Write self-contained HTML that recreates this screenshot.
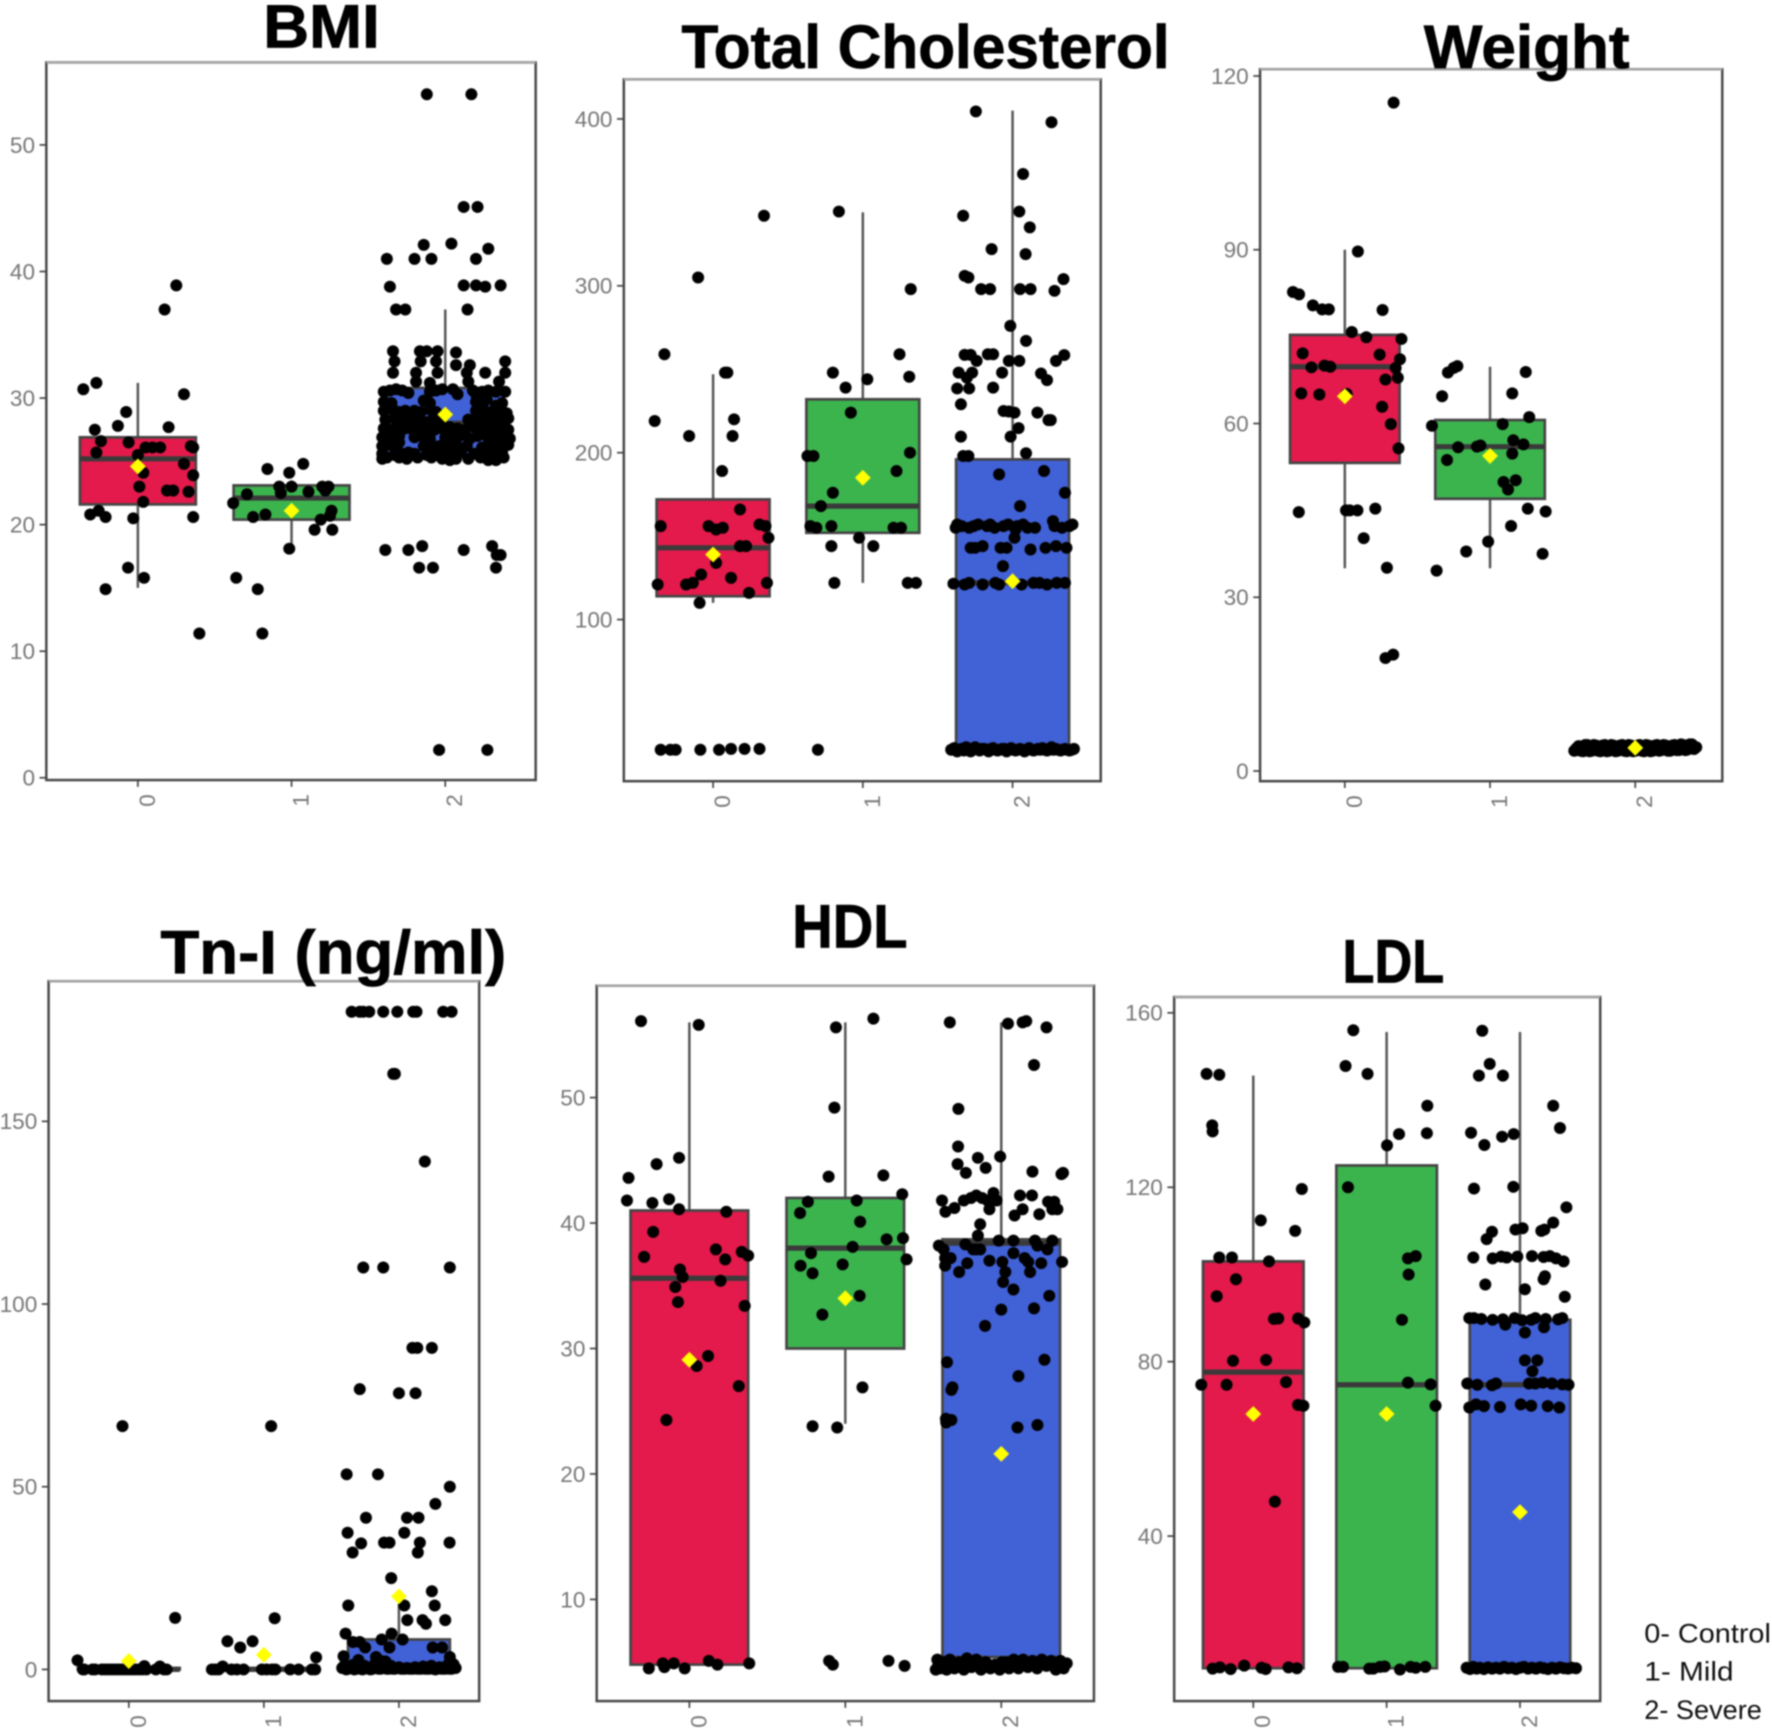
<!DOCTYPE html>
<html lang="en">
<head>
<meta charset="utf-8">
<title>Biomarker box plots by severity</title>
<style>
  html, body { margin: 0; padding: 0; background: #fff; }
  body { width: 1772px; height: 1733px; overflow: hidden; }
  svg { display: block; filter: blur(0.7px); }
  .chart-title { font-family: "Liberation Sans", sans-serif; font-weight: bold; font-size: 54px; fill: #000; stroke: #000; stroke-width: 0.7px; }
  .legend-text { font-family: "Liberation Sans", sans-serif; font-size: 24px; fill: #111; }
  .tick-label { font-family: "Liberation Sans", sans-serif; font-size: 20px; fill: #777; }
</style>
</head>
<body>
<svg xmlns="http://www.w3.org/2000/svg" width="1772" height="1733" viewBox="0 0 1568 1533">
  <rect x="0" y="0" width="1568" height="1533" fill="#ffffff"/>
  <g id="panels"></g>
  <text class="chart-title" x="233" y="42" textLength="103" lengthAdjust="spacingAndGlyphs">BMI</text>
  <text class="chart-title" x="603" y="60" textLength="432" lengthAdjust="spacingAndGlyphs">Total Cholesterol</text>
  <text class="chart-title" x="1260" y="60" textLength="182" lengthAdjust="spacingAndGlyphs">Weight</text>
  <text class="chart-title" x="142" y="861" textLength="306" lengthAdjust="spacingAndGlyphs">Tn-I (ng/ml)</text>
  <text class="chart-title" x="701" y="838" textLength="102" lengthAdjust="spacingAndGlyphs">HDL</text>
  <text class="chart-title" x="1188" y="869" textLength="90" lengthAdjust="spacingAndGlyphs">LDL</text>
  <g>
    <text class="legend-text" x="1455" y="1453" textLength="112" lengthAdjust="spacingAndGlyphs">0- Control</text>
    <text class="legend-text" x="1455" y="1487" textLength="79" lengthAdjust="spacingAndGlyphs">1- Mild</text>
    <text class="legend-text" x="1455" y="1521" textLength="104" lengthAdjust="spacingAndGlyphs">2- Severe</text>
  </g>
</svg>
<script>
const categories = ['0', '1', '2'];

/* BMI */
const bmiTicks = [0, 10, 20, 30, 40, 50];
const bmiQ1 = [21.6, 20.4, 25.5];
const bmiMedian = [25.2, 22.1, 28];
const bmiQ3 = [26.9, 23.1, 30.8];
const bmiWhiskerLow = [15, 18.1, 25];
const bmiWhiskerHigh = [31.2, 23.5, 37];
const bmiMean = [24.6, 21.1, 28.7];
const bmiPoints0 = [[-.355,30.7],[-.27,31.2],[-.076,28.9],[-.13,27.8],[-.28,27.5],[-.24,26.6],[-.06,26.5],[-.27,25.7],[0,25.5],[.05,26.1],[.095,26.1],[.145,26.1],[.2,27.7],[.3,30.3],[.345,26.2],[.36,26.1],[.3,24.8],[.36,23.9],[.035,24.1],[.01,23],[.19,22.7],[.23,22.7],[.33,22.6],[.035,21.8],[-.255,21.1],[-.31,20.8],[-.21,20.6],[-.03,20.5],[.36,20.6],[-.064,16.6],[.04,15.8],[-.21,14.9],[.4,11.4],[.174,37],[.25,38.9]];
const bmiPoints1 = [[-.157,24.4],[.076,24.8],[-.015,24.1],[-.08,23],[0,23],[.11,22.6],[.2,23],[.24,23],[.22,22.7],[-.07,22.5],[-.29,22.4],[-.38,21.7],[.26,21.1],[.25,20.7],[.19,20.4],[-.25,20.6],[-.17,20.8],[.15,19.6],[.265,19.6],[-.015,18.1],[-.36,15.8],[-.22,14.9],[-.19,11.4]];
const bmiPoints2 = [[-.12,54],[.17,54],[.12,45.1],[.21,45.1],[-.14,42.1],[.04,42.2],[.28,41.8],[-.38,41],[-.2,41],[-.09,41],[.2,41],[-.36,38.8],[.12,38.9],[.2,38.9],[.26,38.8],[.36,38.9],[-.32,37],[-.26,37],[.145,37],
[-.34,33.7],[-.33,32.9],[-.34,32],[-.165,33.7],[-.12,33.7],[-.05,33.7],[.07,33.6],[-.16,32.9],[-.06,32.9],[.39,32.9],[.39,32],[.26,32],[.07,32.6],[.16,32.6],[.14,32],[-.19,32],[-.05,32],[-.19,31.3],[-.1,31.2],[.15,31.3],[.35,31.3],
[-.4,30.5],[-.36,30.6],[-.32,30.7],[-.28,30.6],[-.24,30.4],[-.1,30.5],[-.06,30.6],[-.02,30.7],[.05,30.7],[.08,30.3],[.18,30.6],[.2,30.3],[.24,30.5],[.28,30.6],[.33,30.5],[.39,30.5],
[-.4,29.7],[-.35,29.6],[-.14,29.8],[-.1,29.6],[.2,29.7],[.22,29.5],[.27,29.9],[.37,29.6],
[-.4,29],[-.34,29.1],[-.3,28.9],[-.26,29],[-.2,29],[-.16,28.9],[-.1,29.1],[-.06,28.9],[.2,29],[.25,29.1],[.3,28.9],[.36,29],[.4,28.8],
[-.39,28.3],[-.33,28.4],[-.28,28.2],[-.22,28.3],[-.17,28.3],[-.12,28.1],[-.08,28.3],[-.03,28.1],[.15,28.3],[.2,28.2],[.25,28.3],[.29,28.4],[.34,28.2],[.38,28.3],[.41,28.4],
[-.4,27.6],[-.36,27.5],[-.31,27.7],[-.26,27.6],[-.21,27.5],[-.16,27.7],[-.11,27.6],[-.07,27.5],[-.02,27.6],[.03,27.7],[.08,27.6],[.13,27.5],[.19,27.7],[.24,27.6],[.29,27.5],[.33,27.7],[.37,27.6],[.41,27.5],
[-.41,26.9],[-.3,27],[-.2,26.9],[-.15,27],[-.1,26.8],[0,26.9],[.04,27],[.08,26.9],[.16,26.8],[.27,27],[.31,26.9],[.35,26.9],[.39,27],[.42,26.8],
[-.41,26.2],[-.36,26.3],[-.32,26.1],[-.14,26.2],[-.09,26.3],[-.04,26.2],[.02,26.1],[.07,26.3],[.14,26.2],[.24,26.1],[.28,26.3],[.33,26.2],[.37,26.1],[.41,26.3],
[-.41,25.6],[-.33,25.5],[-.28,25.6],[-.24,25.7],[-.2,25.6],[-.12,25.5],[-.08,25.7],[-.03,25.6],[.02,25.5],[.06,25.6],[.1,25.7],[.19,25.6],[.28,25.5],[.33,25.6],[.37,25.7],
[-.41,25.2],[-.3,25.3],[-.02,25.2],[.03,25.1],[.28,25.1],[-.38,25.3],[-.25,25.2],[-.18,25.3],[-.09,25.3],[.07,25.2],[.15,25.2],[.23,25.3],[.33,25.1],[.38,25.3],
[-.36,27],[.21,27],[.12,27.1],[.35,27.3],[.4,26.6],[.3,26.6],[.23,28.8],[.33,29.4],[-.3,26.5],
[-.39,18],[-.24,18],[-.15,18.3],[-.17,16.6],[-.08,16.6],[.12,18],[.305,18.3],[.335,17.6],[.36,17.6],[.33,16.6],[-.04,2.2],[.274,2.2]];

/* Total Cholesterol */
const cholTicks = [100, 200, 300, 400];
const cholQ1 = [114, 152, 22];
const cholMedian = [143, 168, 122];
const cholQ3 = [172, 232, 196];
const cholWhiskerLow = [110, 122, 22];
const cholWhiskerHigh = [247, 344, 405];
const cholMean = [139, 185, 123];
const cholPoints0 = [[.34,342],[-.1,305],[-.325,259],[.095,248],[.08,248],[-.39,219],[.14,220],[-.16,210],[.13,210],[.06,189],[.18,166],[-.35,156],[-.03,156],[.02,154],[.065,155],[.31,157],[.35,156],[.37,149],[.18,144],[.22,144],[.02,134],[-.08,127],[.12,125],[-.37,121],[-.18,121],[-.135,122],[.36,122],[.24,116],[-.09,110],[-.35,22],[-.285,22],[-.25,22],[-.085,22],[.04,22],[.12,22.5],[.21,22.5],[.31,22.5]];
const cholPoints1 = [[-.16,344.5],[.32,298],[.245,259],[-.2,248],[.31,245.5],[.03,244],[-.115,239],[-.08,224],[-.37,198],[-.33,198],[.315,200],[.225,189],[-.2,176],[-.28,168],[-.35,156],[-.31,155],[-.21,156],[.205,155],[.255,155],[-.025,149],[-.21,144],[.07,144],[-.19,122],[.3,122],[.355,122],[-.3,22]];
const cholPoints2 = [[-.245,404.5],[.26,398],[.07,367],[.045,344.5],[-.33,342],[.115,335],[-.14,322],[.087,319],[-.32,306],[-.295,305],[-.21,298],[-.15,298],[.05,298],[.12,298],[.28,297],[.34,304],[-.015,276],[.09,267],[-.32,258.6],[-.28,258.6],[-.24,255],[-.165,259],[-.13,259],[-.025,255],[.045,255],[.29,255],[.345,258.5],[-.36,248],[-.27,248],[-.305,245],[-.07,248],[.19,247.5],[.23,243.5],[-.37,238.5],[-.29,238.5],[-.13,239],[-.345,229],[-.06,225],[-.025,224.7],[.013,224],[.166,224],[.24,219.5],[.255,219.5],[.04,214.7],[-.345,209.6],[-.013,209.6],[.09,199.7],[-.33,198],[-.295,198],[-.09,187],[.21,189],[.35,176],[.05,168],
[-.38,155],[-.37,157],[-.34,156],[-.29,155],[-.26,156],[-.23,157],[-.17,156],[-.15,157],[-.12,155],[-.06,156],[-.03,157],[.02,154],[.03,156],[.07,157],[.1,155],[.15,155],[.27,159],[.28,156],[.33,155],[.38,156],[.4,157],
[-.28,143],[-.25,143],[-.2,144],[-.08,143],[-.04,143],[.22,143],[.29,144],[.36,143],[.12,142],[.013,149],[-.064,132],
[-.395,121.5],[-.32,121],[-.29,122],[-.2,121],[-.115,122],[-.09,121],[.06,121],[.14,122],[.18,122],[.23,121],[.295,122],[.35,122],
[-.41,22],[-.39,23],[-.37,21],[-.34,22.5],[-.31,23.5],[-.28,21],[-.25,23.5],[-.22,21.5],[-.19,22.5],[-.16,21],[-.13,23],[-.1,21.5],[-.07,22.5],[-.04,21],[-.01,23],[.02,21.5],[.05,22.5],[.08,21],[.11,23],[.14,21.5],[.17,22.5],[.2,23],[.23,21.5],[.26,23.5],[.29,22.5],[.32,21.5],[.35,22.5],[.38,21.5],[.41,22.5],
[-.395,22.5],[-.355,22],[-.325,21.5],[-.295,22.5],[-.265,22],[-.235,22.5],[-.205,22.5],[-.175,22],[-.145,22.5],[-.115,22],[-.085,22],[-.055,22.5],[-.025,22],[.005,22],[.035,22],[.065,22],[.095,22],[.125,22],[.155,22],[.185,22],[.215,22],[.245,22],[.275,22],[.305,22],[.335,22],[.365,22],[.395,22]];

/* Weight */
const weightTicks = [0, 30, 60, 90, 120];
const weightQ1 = [53.2, 47, 3.5];
const weightMedian = [69.8, 56, 4];
const weightQ3 = [75.3, 60.6, 4.5];
const weightWhiskerLow = [35, 35, 3.5];
const weightWhiskerHigh = [90, 69.8, 4.5];
const weightMean = [64.7, 54.4, 4];
const weightPoints0 = [[.336,115.4],[.09,89.7],[-.357,82.7],[-.315,82.3],[-.22,80.4],[-.156,79.7],[-.11,79.7],[.26,79.6],[.048,75.8],[.148,74.9],[.39,74.6],[-.29,72.1],[.24,71.9],[.38,71.1],[-.23,69.7],[-.14,70],[-.1,69.8],[.35,69.6],[.28,67.6],[.365,67.9],[-.3,65.2],[-.175,65],[.013,65.1],[.257,62.9],[.317,59.9],[.37,55.7],[-.317,44.7],[.008,45],[.034,45],[.087,45],[.21,45.3],[.13,40.2],[.29,35.1],[.28,19.5],[.333,20.1]];
const weightPoints1 = [[-.29,68.8],[-.25,69.6],[-.225,69.9],[.246,68.9],[-.33,64.7],[.153,65.2],[.27,61.1],[-.4,59.6],[.087,59.9],[.16,57.1],[.23,56.4],[-.22,55.9],[-.09,56],[-.066,56.2],[.153,54.8],[-.296,53.7],[.093,49.9],[.177,50.2],[.124,48.6],[.26,45.3],[.383,44.8],[.145,42.3],[-.013,39.6],[-.164,37.9],[.362,37.5],[-.368,34.6]];
const weightPoints2 = [[-.42,3.5],[-.39,4.3],[-.36,3.4],[-.33,4.5],[-.3,3.5],[-.27,4.4],[-.24,3.4],[-.21,4.5],[-.18,3.5],[-.15,4.4],[-.12,3.5],[-.09,4.5],[-.06,3.4],[-.03,4.4],[0,3.5],[.03,4.5],[.06,3.4],[.09,4.4],[.12,3.5],[.15,4.5],[.18,3.6],[.21,4.4],[.24,3.5],[.27,4.5],[.3,3.6],[.33,4.5],[.36,3.7],[.39,4.6],[.42,4.1],
[-.405,3.9],[-.375,3.5],[-.345,4.5],[-.315,3.4],[-.285,4.5],[-.255,3.5],[-.225,4.4],[-.195,3.4],[-.165,4.5],[-.135,3.4],[-.105,4.4],[-.075,3.5],[-.045,4.5],[-.015,3.4],[.015,4.4],[.045,3.5],[.075,4.5],[.105,3.4],[.135,4.4],[.165,3.5],[.195,4.5],[.225,3.5],[.255,4.4],[.285,3.6],[.315,4.6],[.345,3.6],[.375,4.6],[.405,3.8]];

/* Tn-I */
const tniTicks = [0, 50, 100, 150];
const tniQ1 = [0, 0, 0];
const tniMedian = [0, 0, 1];
const tniQ3 = [0.4, 0.4, 8.2];
const tniWhiskerLow = [0, 0, 0];
const tniWhiskerHigh = [0.4, 0.4, 18];
const tniMean = [2.3, 4, 20];
const tniPoints0 = [[-.047,66.6],[.343,14.1],[-.38,2.5],[-.34,0],[-.33,0],[-.27,0],[-.25,0],[-.2,0],[-.175,0],[-.15,0],[-.125,0],[-.1,0],[-.075,0],[-.05,0],[-.025,0],[0,0],[.025,0],[.05,0],[.075,0],[.1,0],[.115,.9],[.13,0],[.2,0],[.23,.8],[.26,0],[.28,0]];
const tniPoints1 = [[.054,66.6],[.08,14],[-.27,7.7],[-.084,7.7],[-.175,6],[.387,3.3],[-.385,0],[-.36,0],[-.335,0],[-.305,.8],[-.24,0],[-.2,0],[-.15,0],[-.015,0],[.02,0],[.06,0],[.085,0],[.195,0],[.257,0],[.355,0],[.38,0]];
const tniPoints2 = [[-.35,180],[-.29,180],[-.265,180],[-.22,180],[-.116,180],[-.012,180],[.106,180],[.13,180],[.328,180],[.39,180],[-.042,163],[-.03,163],[.192,139],[-.264,110],[-.116,110],[.377,110],[.1,88],[.136,88],[.244,88],[-.29,76.7],[0,75.6],[.123,75.6],[-.387,53.4],[-.155,53.4],[.377,50],[.27,45.3],[-.244,41.5],[.06,41.5],[.145,41.5],[-.38,37.4],[.04,37.4],[-.28,34.5],[-.11,34.7],[-.07,34.7],[.155,34.7],[.375,34.7],[-.343,32],[.14,32],[-.057,25],[.244,21.4],[-.375,17.5],[.04,17.5],[.265,17.5],[.062,13.5],[.175,13.5],[.2,12.5],[.343,13.5],[-.395,9.8],[-.054,9.8],[-.128,8.2],[.027,8.2],
[-.34,7.5],[-.29,7.5],[-.25,6],[-.07,6],[.25,6],[.32,6],[-.41,3.6],[-.17,3.4],[.377,3.4],[-.3,2.6],[-.14,2.4],[-.1,2.2],[.39,1.8],
[-.42,.4],[-.39,0],[-.36,.8],[-.33,0],[-.3,1.2],[-.27,0],[-.24,.6],[-.21,0],[-.18,1.4],[-.15,.2],[-.12,1.6],[-.09,.2],[-.06,1],[-.03,.2],[0,.6],[.03,.2],[.06,.4],[.09,.2],[.12,.6],[.15,.2],[.18,.8],[.21,.2],[.24,1],[.27,0],[.3,.6],[.33,.2],[.36,1.2],[.39,.2],[.42,.4],
[-.405,1],[-.375,.2],[-.345,1.2],[-.315,.2],[-.285,.2],[-.255,1],[-.225,.2],[-.195,.2],[-.165,2.2],[-.135,.2],[-.105,2],[-.075,.2],[-.045,.2],[.015,.2],[.045,.2],[.075,.2],[.105,.2],[.135,.2],[.165,.2],[.195,.2],[.225,.2],[.255,.2],[.285,.2],[.315,.2],[.345,.2],[.375,.2],[.405,1.4]];

/* HDL */
const hdlTicks = [10, 20, 30, 40, 50];
const hdlQ1 = [4.8, 30, 5.4];
const hdlMedian = [35.6, 38, 38.4];
const hdlQ3 = [41, 42, 38.7];
const hdlWhiskerLow = [4.8, 24, 4.8];
const hdlWhiskerHigh = [56, 56, 56];
const hdlMean = [29.1, 34, 21.6];
const hdlPoints0 = [[-.31,56.1],[.06,55.8],[-.39,43.6],[-.21,44.7],[-.066,45.2],[-.4,41.8],[-.237,41.6],[-.13,41.9],[-.066,41.1],[.237,40.9],[-.232,39.3],[-.29,37.3],[.17,37.9],[.23,37.1],[.336,37.7],[.377,37.4],[-.06,36.3],[-.043,35.7],[.2,35.4],[-.09,34.9],[-.073,33.7],[.355,33.4],[.12,29.4],[.047,28.6],[.317,27],[-.147,24.3],[-.26,4.5],[-.17,4.9],[-.16,4.6],[-.1,4.9],[-.03,4.5],[.125,5.1],[.18,4.8],[.384,4.9]];
const hdlPoints1 = [[.18,56.3],[-.06,55.6],[-.07,49.2],[-.107,43.7],[.244,43.8],[.365,42.3],[-.24,41.7],[.073,41.8],[-.29,40.8],[.095,40.1],[.37,38.8],[.265,38.7],[.047,38.1],[-.22,37.6],[.393,37.1],[-.287,36.6],[-.017,36.7],[-.21,36],[.092,34.2],[-.147,32.7],[.11,26.9],[-.21,23.8],[-.052,23.7],[-.104,5.1],[-.08,4.8],[.277,5.1],[.38,4.7]];
const hdlPoints2 = [[-.33,56],[.043,55.9],[.137,56],[.16,56.1],[.29,55.6],[.21,52.6],[-.275,49.1],[-.277,46.1],[-.15,45.2],[-.007,45.3],[-.28,44.7],[-.1,44.4],[-.227,44],[.2,44.1],[.386,43.9],[.396,44],[-.38,41.8],[-.358,40.9],[-.3,41.2],[-.24,41.8],[-.194,42],[-.16,42.2],[-.123,42],[-.088,41.8],[-.076,41.1],[-.05,42.4],[-.03,41.8],[.12,42.2],[.197,42.2],[.137,41.1],[.085,40.6],[.244,40.7],[.3,41.7],[.34,41.7],[.327,41.1],[.36,41.1],[-.135,39.9],[-.15,39],[-.016,38.6],[.078,38.6],[.216,38.6],[.327,38.6],[-.4,38.2],[-.37,37.9],[-.23,38.3],[-.18,37.9],[-.16,37.9],[-.135,37.9],[.232,38.2],[.296,37.9],[-.36,37.2],[-.325,37.2],[-.36,36.6],[-.218,36.8],[-.076,37],[.007,36.9],[.078,37.6],[.15,37.2],[.173,36.9],[.256,36.8],[.39,36.9],[-.27,36.1],[.026,36.1],[.185,36.1],[.012,35.3],[.078,34.7],[.308,34.2],[0,33.1],[.21,33.2],[-.104,31.8],[-.348,28.9],[.277,29.1],[.11,27.8],[-.313,26.9],[-.32,26.7],[-.355,24.4],[-.32,24.3],[-.353,24.1],[.104,23.7],[.232,23.9],
[-.42,4.4],[-.41,5.2],[-.39,4.5],[-.37,5],[-.35,4.4],[-.33,5.2],[-.3,4.5],[-.27,5],[-.24,4.4],[-.22,5.3],[-.19,4.6],[-.16,5.2],[-.13,4.4],[-.1,5],[-.07,4.5],[-.04,4.8],[-.01,4.4],[.02,4.8],[.05,4.5],[.08,5.2],[.11,4.5],[.14,5.2],[.17,4.6],[.2,5.1],[.23,4.5],[.26,5.2],[.29,4.7],[.32,5.1],[.35,4.4],[.38,5.1],[.4,4.5],[.42,4.9],
[-.405,4.7],[-.315,4.8],[-.285,4.9],[-.255,4.6],[-.205,4.8],[-.145,4.7],[-.085,4.8],[-.025,4.7],[.005,5],[.035,5],[.065,4.8],[.095,4.7],[.125,4.8],[.155,4.8],[.185,4.8],[.215,4.8],[.245,4.8],[.275,4.9],[.305,4.8],[.335,4.7],[.365,4.8]];

/* LDL */
const ldlTicks = [40, 80, 120, 160];
const ldlQ1 = [9.7, 9.7, 9.7];
const ldlMedian = [77.6, 74.7, 74.7];
const ldlQ3 = [103, 125, 89.6];
const ldlWhiskerLow = [9.7, 9.7, 9.7];
const ldlWhiskerHigh = [145.6, 155.6, 155.6];
const ldlMean = [68, 68, 45.5];
const ldlPoints0 = [[-.35,146],[-.255,145.8],[-.308,134.2],[-.305,132.8],[.364,119.6],[.056,112.4],[.314,110],[-.255,103.9],[-.16,103.9],[.118,103],[-.13,98.9],[-.274,95],[.155,89.8],[.187,89.9],[.336,89.9],[.383,89],[-.152,80.2],[.096,80.4],[-.39,74.7],[-.2,74.7],[.246,75.3],[.336,70.1],[.376,69.9],[.162,47.9],[-.305,9.6],[-.25,9.9],[-.17,9.5],[-.068,10.3],[.062,9.8],[.093,9.5],[.264,9.9],[.327,9.7]];
const ldlPoints1 = [[-.25,156],[-.308,147.8],[-.143,146],[.305,138.7],[.302,132.4],[.093,132.2],[.003,129.6],[-.29,120],[.16,103.7],[.218,104.2],[.165,100],[.115,89.6],[.16,75.2],[.33,74.8],[.367,69.9],[-.364,10],[-.327,10],[-.13,9.6],[-.1,9.6],[-.05,10],[-.015,10.1],[.1,9.4],[.18,10],[.218,9.8],[.29,10]];
const ldlPoints2 = [[-.283,155.9],[-.227,148.3],[-.308,145.6],[-.128,145.6],[.249,138.7],[.3,133.6],[-.367,132.5],[-.134,131.6],[-.047,132.2],[-.267,129.7],[-.345,119.7],[-.05,120.1],[.348,115.4],[.249,111.9],[-.21,109.8],[-.25,108.1],[-.034,110.3],[.02,110.6],[.16,110],[.183,110.3],[-.35,103.9],[-.205,103.7],[-.14,104.1],[-.1,103.9],[-.02,104.1],[.09,104.2],[.177,104],[.224,104.2],[.27,103.7],[.327,103],[.177,98.9],[.187,99.6],[-.26,97.7],[.037,96.6],[.336,94.9],
[-.38,90],[-.345,90],[-.29,89.8],[-.205,89.6],[-.128,89.7],[-.04,90],[.016,89.5],[.084,89.6],[.115,90],[.193,89.8],[.286,89.7],[.317,90],[-.11,88.5],[.037,86.7],[.18,87.9],[.037,80.3],[.13,80.3],[.093,77.8],
[-.395,75],[-.32,74.7],[-.21,74.6],[-.18,75],[.068,75],[.115,75],[.171,75.2],[.24,75],[.317,74.8],[.364,74.7],
[-.38,69.5],[-.33,70.2],[-.27,69.8],[-.15,69.6],[.006,70.2],[.084,69.9],[.208,69.8],[.295,69.5],
[-.4,9.8],[-.375,9.5],[-.35,10],[-.325,9.6],[-.3,9.8],[-.27,9.5],[-.24,9.9],[-.21,9.6],[-.18,9.8],[-.15,9.6],[-.12,10],[-.09,9.7],[-.06,9.8],[-.03,9.5],[0,9.8],[.03,10],[.06,9.6],[.09,9.8],[.12,9.6],[.15,9.9],[.18,9.7],[.21,9.5],[.24,9.8],[.27,9.6],[.3,9.9],[.33,9.7],[.36,9.6],[.39,9.8],[.42,9.7]];

const SVG_NS = 'http://www.w3.org/2000/svg';
const FILLS = ['#e31a4b', '#3cb44e', '#4161d6'];
const panelsRoot = document.getElementById('panels');

function make(tag, parent) {
  const el = document.createElementNS(SVG_NS, tag);
  parent.appendChild(el);
  return el;
}
function setLine(el, x1, y1, x2, y2, stroke, width) {
  el.setAttribute('x1', x1);
  el.setAttribute('y1', y1);
  el.setAttribute('x2', x2);
  el.setAttribute('y2', y2);
  el.setAttribute('stroke', stroke);
  el.setAttribute('stroke-width', width);
}

function drawPanel(p) {
  const yScale = v => p.anchorLowPx + (v - p.anchorLow) * (p.anchorHighPx - p.anchorLowPx) / (p.anchorHigh - p.anchorLow);
  const xScale = (c, j) => p.firstCategoryPx + (c + j) * p.categoryStep;
  const halfBox = 0.377;

  const g = make('g', panelsRoot);
  
  

  const frame = make('rect', g);
  
  
  frame.setAttribute('x', p.left);
  frame.setAttribute('y', p.top);
  frame.setAttribute('width', p.right - p.left);
  frame.setAttribute('height', p.bottom - p.top);
  frame.setAttribute('fill', '#ffffff');
  frame.setAttribute('stroke', '#484848');
  frame.setAttribute('stroke-width', '2.2');

  const topEdge = make('line', g);
  
  
  setLine(topEdge, p.left, p.top, p.right, p.top, '#a8a8a8', 2);

  p.ticks.forEach(t => {
    const y = yScale(t);
    const tick = make('line', g);
    
    
    setLine(tick, p.left - 6, y, p.left, y, '#444', 1.5);
    const label = make('text', g);
    
    
    label.setAttribute('class', 'tick-label');
    label.setAttribute('x', p.left - 10);
    label.setAttribute('y', y);
    label.setAttribute('dy', '.35em');
    label.setAttribute('text-anchor', 'end');
    label.textContent = t;
  });

  categories.forEach((cat, c) => {
    const cx = xScale(c, 0);
    const tick = make('line', g);
    
    
    setLine(tick, cx, p.bottom, cx, p.bottom + 6, '#444', 1.5);
    const label = make('text', g);
    
    
    label.setAttribute('class', 'tick-label');
    label.setAttribute('x', cx + 8);
    label.setAttribute('y', p.bottom + 18);
    label.setAttribute('dy', '.35em');
    label.setAttribute('text-anchor', 'middle');
    label.setAttribute('transform', 'rotate(-90 ' + (cx + 8) + ' ' + (p.bottom + 18) + ')');
    label.textContent = cat;

    const whisker = make('line', g);
    
    
    setLine(whisker, cx, yScale(p.whiskerHigh[c]), cx, yScale(p.whiskerLow[c]), '#555', 2.2);

    const box = make('rect', g);
    
    
    box.setAttribute('x', xScale(c, -halfBox));
    box.setAttribute('y', yScale(p.q3[c]));
    box.setAttribute('width', xScale(c, halfBox) - xScale(c, -halfBox));
    box.setAttribute('height', Math.abs(yScale(p.q1[c]) - yScale(p.q3[c])));
    box.setAttribute('fill', FILLS[c]);
    box.setAttribute('stroke', '#454545');
    box.setAttribute('stroke-width', '2.4');

    const median = make('line', g);
    
    
    setLine(median, xScale(c, -halfBox), yScale(p.median[c]), xScale(c, halfBox), yScale(p.median[c]), '#3a3a3a', 4.6);

    p.points[c].forEach(pt => {
      const dot = make('circle', g);
      
      
      dot.setAttribute('cx', xScale(c, pt[0]));
      dot.setAttribute('cy', yScale(pt[1]));
      dot.setAttribute('r', '5.3');
      dot.setAttribute('fill', '#000');
    });
  });

  categories.forEach((cat, c) => {
    const mx = xScale(c, 0);
    const my = yScale(p.mean[c]);
    const diamond = make('polygon', g);
    
    
    diamond.setAttribute('points', [mx - 7, my, mx, my - 7, mx + 7, my, mx, my + 7].join(' '));
    diamond.setAttribute('fill', '#ffff00');
  });
}

drawPanel({name:'bmi', left:41, right:474, top:55, bottom:690, firstCategoryPx:122, categoryStep:136, anchorLow:0, anchorLowPx:688, anchorHigh:50, anchorHighPx:128, ticks:bmiTicks, q1:bmiQ1, median:bmiMedian, q3:bmiQ3, whiskerLow:bmiWhiskerLow, whiskerHigh:bmiWhiskerHigh, mean:bmiMean, points:[bmiPoints0, bmiPoints1, bmiPoints2]});
drawPanel({name:'total-cholesterol', left:552, right:974, top:70, bottom:691, firstCategoryPx:631, categoryStep:132.5, anchorLow:100, anchorLowPx:548, anchorHigh:400, anchorHighPx:105, ticks:cholTicks, q1:cholQ1, median:cholMedian, q3:cholQ3, whiskerLow:cholWhiskerLow, whiskerHigh:cholWhiskerHigh, mean:cholMean, points:[cholPoints0, cholPoints1, cholPoints2]});
drawPanel({name:'weight', left:1115, right:1524, top:61, bottom:691, firstCategoryPx:1190, categoryStep:128.5, anchorLow:0, anchorLowPx:682, anchorHigh:120, anchorHighPx:67, ticks:weightTicks, q1:weightQ1, median:weightMedian, q3:weightQ3, whiskerLow:weightWhiskerLow, whiskerHigh:weightWhiskerHigh, mean:weightMean, points:[weightPoints0, weightPoints1, weightPoints2]});
drawPanel({name:'tn-i', left:43, right:424, top:868, bottom:1505, firstCategoryPx:114, categoryStep:119.5, anchorLow:0, anchorLowPx:1477, anchorHigh:150, anchorHighPx:992, ticks:tniTicks, q1:tniQ1, median:tniMedian, q3:tniQ3, whiskerLow:tniWhiskerLow, whiskerHigh:tniWhiskerHigh, mean:tniMean, points:[tniPoints0, tniPoints1, tniPoints2]});
drawPanel({name:'hdl', left:528, right:968, top:872, bottom:1505, firstCategoryPx:610, categoryStep:138, anchorLow:10, anchorLowPx:1415, anchorHigh:50, anchorHighPx:971, ticks:hdlTicks, q1:hdlQ1, median:hdlMedian, q3:hdlQ3, whiskerLow:hdlWhiskerLow, whiskerHigh:hdlWhiskerHigh, mean:hdlMean, points:[hdlPoints0, hdlPoints1, hdlPoints2]});
drawPanel({name:'ldl', left:1039, right:1416, top:882, bottom:1505, firstCategoryPx:1109, categoryStep:118, anchorLow:40, anchorLowPx:1359, anchorHigh:160, anchorHighPx:896, ticks:ldlTicks, q1:ldlQ1, median:ldlMedian, q3:ldlQ3, whiskerLow:ldlWhiskerLow, whiskerHigh:ldlWhiskerHigh, mean:ldlMean, points:[ldlPoints0, ldlPoints1, ldlPoints2]});
</script>
</body>
</html>
